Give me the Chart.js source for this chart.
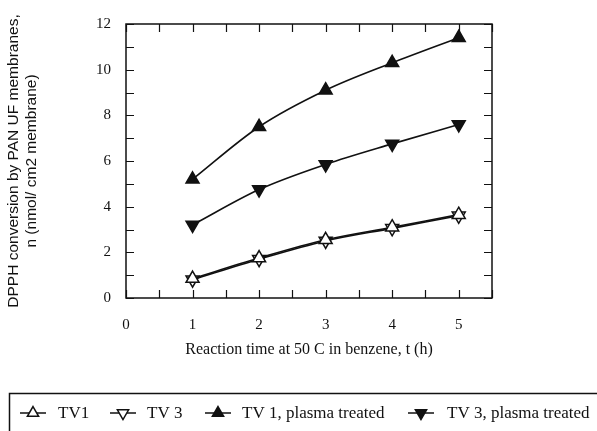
<!DOCTYPE html>
<html>
<head>
<meta charset="utf-8">
<script src="https://cdn.jsdelivr.net/npm/chart.js@4/dist/chart.umd.min.js"></script>
<style>
  html, body { margin: 0; padding: 0; background: #fff; }
  #wrap { width: 597px; height: 431px; }
</style>
</head>
<body>
<div id="wrap"><canvas id="c" width="597" height="431"></canvas></div>
<script>
// Reaction time (h) and DPPH conversion (nmol/cm2 membrane) per membrane type
const hours = [1, 2, 3, 4, 5];
const tv1 = [0.85, 1.75, 2.55, 3.1, 3.65];
const tv3 = [0.8, 1.7, 2.5, 3.05, 3.6];
const tv1Plasma = [5.2, 7.5, 9.1, 10.3, 11.4];
const tv3Plasma = [3.2, 4.75, 5.85, 6.75, 7.6];
const seriesLabels = ['TV1', 'TV 3', 'TV 1, plasma treated', 'TV 3, plasma treated'];
const xTickValues = [0, 1, 2, 3, 4, 5];
const yTickValues = [0, 2, 4, 6, 8, 10, 12];

const INK = '#111';
const SERIF = '"Liberation Serif", "Times New Roman", serif';
const SANS = '"Liberation Sans", Arial, sans-serif';

const toPoints = vals => hours.map((h, i) => ({ x: h, y: vals[i] }));

function series(label, vals, filled, rotation) {
  return {
    label,
    data: toPoints(vals),
    borderColor: INK,
    borderWidth: 1.6,
    cubicInterpolationMode: 'monotone',
    pointStyle: 'triangle',
    pointRotation: rotation,
    pointRadius: 7.5,
    pointHoverRadius: 7.5,
    pointBorderWidth: 1.5,
    pointBorderColor: INK,
    pointBackgroundColor: filled ? INK : '#fff',
    fill: false
  };
}

// Box around the plot with inward-pointing tick marks on all four sides
const frameTicks = {
  id: 'frameTicks',
  beforeDatasetsDraw(chart) {
    const { ctx, chartArea: a, scales: { x, y } } = chart;
    const len = 8;
    ctx.save();
    ctx.strokeStyle = INK;
    ctx.lineWidth = 1.5;
    ctx.strokeRect(a.left, a.top, a.right - a.left, a.bottom - a.top);
    ctx.lineWidth = 1.2;
    ctx.beginPath();
    for (let v = x.min; v <= x.max + 1e-9; v += 0.5) {
      const px = Math.round(x.getPixelForValue(v)) + 0.5;
      ctx.moveTo(px, a.bottom); ctx.lineTo(px, a.bottom - len);
      ctx.moveTo(px, a.top); ctx.lineTo(px, a.top + len);
    }
    for (let v = y.min; v <= y.max + 1e-9; v += 1) {
      const py = Math.round(y.getPixelForValue(v)) + 0.5;
      ctx.moveTo(a.left, py); ctx.lineTo(a.left + len, py);
      ctx.moveTo(a.right, py); ctx.lineTo(a.right - len, py);
    }
    ctx.stroke();
    ctx.restore();
  }
};

// Boxed legend along the bottom: line-through-marker symbol followed by the label
const boxedLegend = {
  id: 'boxedLegend',
  afterDraw(chart) {
    const { ctx } = chart;
    const symbolX = [33, 123, 218, 421];
    const textX = [58, 147, 242, 447];
    const rowY = 413;
    ctx.save();
    ctx.strokeStyle = INK;
    ctx.lineWidth = 1.5;
    ctx.strokeRect(9.5, 393.5, 700, 100);
    ctx.font = '17px ' + SERIF;
    ctx.fillStyle = INK;
    ctx.textBaseline = 'middle';
    chart.data.datasets.forEach((ds, i) => {
      const cx = symbolX[i];
      ctx.lineWidth = 1.5;
      ctx.beginPath();
      ctx.moveTo(cx - 13, rowY); ctx.lineTo(cx + 13, rowY);
      ctx.stroke();
      const r = 6.5;
      let rad = (ds.pointRotation || 0) * Math.PI / 180;
      ctx.beginPath();
      for (let k = 0; k < 3; k++) {
        const px = cx + Math.sin(rad) * r, py = rowY - Math.cos(rad) * r;
        k === 0 ? ctx.moveTo(px, py) : ctx.lineTo(px, py);
        rad += 2 * Math.PI / 3;
      }
      ctx.closePath();
      ctx.fillStyle = ds.pointBackgroundColor;
      ctx.fill();
      ctx.stroke();
      ctx.fillStyle = INK;
      ctx.textAlign = 'left';
      ctx.fillText(ds.label, textX[i], rowY + 1);
    });
    ctx.restore();
  }
};

new Chart(document.getElementById('c'), {
  type: 'line',
  data: {
    datasets: [
      series(seriesLabels[0], tv1, false, 0),
      series(seriesLabels[1], tv3, false, 180),
      series(seriesLabels[2], tv1Plasma, true, 0),
      series(seriesLabels[3], tv3Plasma, true, 180)
    ]
  },
  options: {
    responsive: false,
    devicePixelRatio: 1,
    animation: false,
    layout: { padding: { left: 0, right: 105, top: 20, bottom: 68 } },
    plugins: { legend: { display: false }, tooltip: { enabled: false } },
    scales: {
      x: {
        type: 'linear',
        min: 0,
        max: 5.5,
        afterBuildTicks: s => { s.ticks = xTickValues.map(v => ({ value: v })); },
        afterFit: s => { s.height = 65; },
        grid: { display: false, drawTicks: false },
        border: { display: false },
        ticks: { padding: 18, color: INK, font: { family: SERIF, size: 15 } },
        title: {
          display: true,
          text: 'Reaction time at 50 C in benzene, t (h)',
          color: INK,
          font: { family: SERIF, size: 16 },
          padding: { top: 0, bottom: 4 }
        }
      },
      y: {
        type: 'linear',
        min: 0,
        max: 12,
        afterBuildTicks: s => { s.ticks = yTickValues.map(v => ({ value: v })); },
        afterFit: s => { s.width = 126; },
        grid: { display: false, drawTicks: false },
        border: { display: false },
        ticks: { padding: 15, color: INK, font: { family: SERIF, size: 15 } },
        title: {
          display: true,
          text: ['DPPH conversion by PAN UF membranes,', 'n (nmol/ cm2 membrane)'],
          color: INK,
          font: { family: SANS, size: 15.5, lineHeight: 1.2 },
          padding: { top: 4, bottom: 0 }
        }
      }
    }
  },
  plugins: [frameTicks, boxedLegend]
});
</script>
</body>
</html>
